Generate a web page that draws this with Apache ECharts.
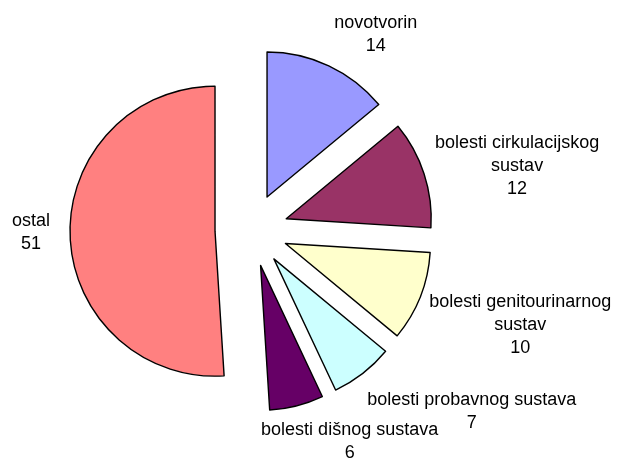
<!DOCTYPE html>
<html>
<head>
<meta charset="utf-8">
<script src="https://cdn.jsdelivr.net/npm/echarts@6/dist/echarts.min.js"></script>
<style>
  html, body { margin: 0; padding: 0; background: #fff; }
  #chart { width: 620px; height: 459px; }
</style>
</head>
<body>
<div id="chart"></div>
<script>
// categories, clockwise from 12 o'clock
const categories = [
  'novotvorin',
  'bolesti cirkulacijskog\nsustav',
  'bolesti genitourinarnog\nsustav',
  'bolesti probavnog sustava',
  'bolesti dišnog sustava',
  'ostal'
];
const values = [14, 12, 10, 7, 6, 51];
const colors = ['#9999FF', '#993366', '#FFFFCC', '#CCFFFF', '#660066', '#FF8080'];

// pie geometry
const cx = 251.5, cy = 230, radius = 145, explode = 36.5;

// label nudge from the exploded arc midpoint (px)
const labelNudge = [[47, -31], [93, -8], [100, 28], [109, 38], [53, 36], [-39, -3]];

const total = values.reduce((a, b) => a + b, 0);
let acc = 0;
const midAngles = values.map((v) => {
  const m = ((acc + v / 2) / total) * Math.PI * 2;
  acc += v;
  return m;
});

const pieBase = {
  type: 'pie',
  center: [cx, cy],
  radius: radius,
  startAngle: 90,
  clockwise: true,
  avoidLabelOverlap: false,
  emphasis: { disabled: true },
  labelLine: { show: false }
};

const chart = echarts.init(document.getElementById('chart'));

chart.setOption({
  backgroundColor: '#fff',
  animation: false,
  series: [
    // exploded slices (labels on a second pie: selected items ignore labelLayout x/y)
    Object.assign({}, pieBase, {
      selectedMode: 'multiple',
      selectedOffset: explode,
      itemStyle: { borderColor: '#000', borderWidth: 1.4 },
      select: { itemStyle: { borderColor: '#000', borderWidth: 1.4 } },
      label: { show: false },
      data: categories.map((name, i) => ({
        name: name,
        value: values[i],
        selected: true,
        itemStyle: { color: colors[i] },
        select: { itemStyle: { color: colors[i] } }
      }))
    }),
    // labels (same pie, invisible slices)
    Object.assign({}, pieBase, {
      silent: true,
      z: 3,
      itemStyle: { color: 'rgba(0,0,0,0)', borderWidth: 0 },
      label: {
        show: true,
        position: 'outside',
        formatter: '{b}\n{c}',
        fontFamily: 'Liberation Sans, Arial, sans-serif',
        fontSize: 18,
        lineHeight: 23,
        color: '#000'
      },
      labelLayout: (params) => {
        const i = params.dataIndex;
        const m = midAngles[i];
        const ax = cx + (radius + explode) * Math.sin(m);
        const ay = cy - (radius + explode) * Math.cos(m);
        return {
          x: ax + labelNudge[i][0],
          y: ay + labelNudge[i][1],
          align: 'center',
          verticalAlign: 'middle'
        };
      },
      data: categories.map((name, i) => ({ name: name, value: values[i] }))
    })
  ]
});
</script>
</body>
</html>
